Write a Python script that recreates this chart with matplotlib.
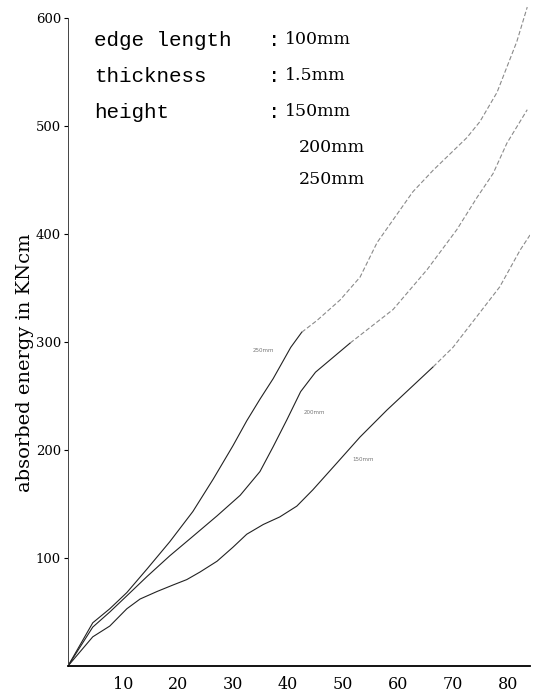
import matplotlib
matplotlib.use("Agg")
import matplotlib.pyplot as plt

# data (deflection vs absorbed energy in KNcm)
x_250 = [0, 4.5, 7.6, 10.7, 14.4, 18.5, 22.7, 26.4, 30.0, 32.5, 34.9, 37.3, 40.5, 42.5, 45.3, 49.5, 53.1, 56.2, 59.1, 62.7, 66.4, 72.5, 74.9, 78.0, 81.6, 83.5]
y_250 = [0, 40, 53, 68, 90, 115, 143, 173, 204, 227, 247, 266, 295, 309, 320, 339, 360, 392, 413, 439, 459, 489, 504, 531, 578, 610]

x_200 = [0, 4.5, 7.6, 10.7, 14.4, 18.5, 22.7, 27.1, 31.3, 34.9, 37.3, 39.8, 42.3, 45.0, 51.3, 59.1, 65.3, 70.7, 74.4, 77.3, 79.8, 83.5]
y_200 = [0, 36, 50, 65, 83, 102, 120, 139, 158, 180, 203, 228, 254, 272, 299, 330, 367, 404, 434, 456, 484, 515]

x_150 = [0, 4.5, 7.6, 10.7, 13.1, 16.2, 19.1, 21.6, 24.0, 27.1, 30.0, 32.5, 35.5, 38.5, 41.6, 44.5, 48.9, 53.1, 58.0, 66.4, 70.0, 78.5, 82.2, 84.0]
y_150 = [0, 27, 37, 53, 62, 69, 75, 80, 87, 97, 110, 122, 131, 138, 148, 163, 188, 212, 237, 277, 295, 351, 385, 399]

x_ticks = [10, 20, 30, 40, 50, 60, 70, 80]
y_ticks = [100, 200, 300, 400, 500, 600]

fig = plt.figure(figsize=(5.38, 6.98), dpi=100)
ax = fig.add_axes([68/538, 32/698, 462/538, 660/698])

lc = "#222222"
faint = "#8a8a8a"
# solid lower part, faded (scanned) upper part
for xs, ys, cut in [(x_250, y_250, 13), (x_200, y_200, 14), (x_150, y_150, 19)]:
    ax.plot(xs[:cut + 1], ys[:cut + 1], color=lc, lw=0.8)
    ax.plot(xs[cut:], ys[cut:], color=faint, lw=0.8, linestyle=(0, (4, 2)))

ax.set_xlim(0, 84)
ax.set_ylim(0, 611)
for s in ["top", "right"]:
    ax.spines[s].set_visible(False)
ax.spines["left"].set_bounds(0, 600)
ax.spines["left"].set_linewidth(0.7)
ax.spines["left"].set_color("#444444")
ax.spines["bottom"].set_linewidth(1.3)

ax.set_xticks(x_ticks)
ax.set_xticklabels([str(v) for v in x_ticks], family="DejaVu Serif", fontsize=11.5)
ax.set_yticks(y_ticks)
ax.set_yticklabels([str(v) for v in y_ticks], family="DejaVu Serif", fontsize=9.5)
ax.tick_params(axis="x", length=0, pad=7)
ax.tick_params(axis="y", length=3, width=0.8, direction="out", pad=2)

ax.set_ylabel("absorbed energy in KNcm", family="DejaVu Serif", fontsize=14)
ax.yaxis.set_label_coords(-0.074, 0.46)

# curve labels
ax.text(35.5, 292, "250mm", fontsize=4, color="#777777", ha="center", va="center")
ax.text(44.8, 235, "200mm", fontsize=4, color="#777777", ha="center", va="center")
ax.text(53.7, 191, "150mm", fontsize=4, color="#777777", ha="center", va="center")

# annotation block
def fx(px):
    return (px - 68) / 462
def fy(py):
    return (666 - py) / 660

mono = "Liberation Mono"
serif = "DejaVu Serif"
rows = [("edge length", "100mm", 40), ("thickness", "1.5mm", 76), ("height", "150mm", 112)]
for lab, val, py in rows:
    ax.text(fx(94), fy(py), lab, transform=ax.transAxes, family=mono, fontsize=15, va="center", ha="left")
    ax.text(fx(268), fy(py), ":", transform=ax.transAxes, family=mono, fontsize=15, va="center", ha="left")
    ax.text(fx(285), fy(py), val, transform=ax.transAxes, family=serif, fontsize=12.5, va="center", ha="left")
ax.text(fx(299), fy(148), "200mm", transform=ax.transAxes, family=serif, fontsize=12.5, va="center", ha="left")
ax.text(fx(299), fy(180), "250mm", transform=ax.transAxes, family=serif, fontsize=12.5, va="center", ha="left")

fig.savefig("out.png", dpi=100)
